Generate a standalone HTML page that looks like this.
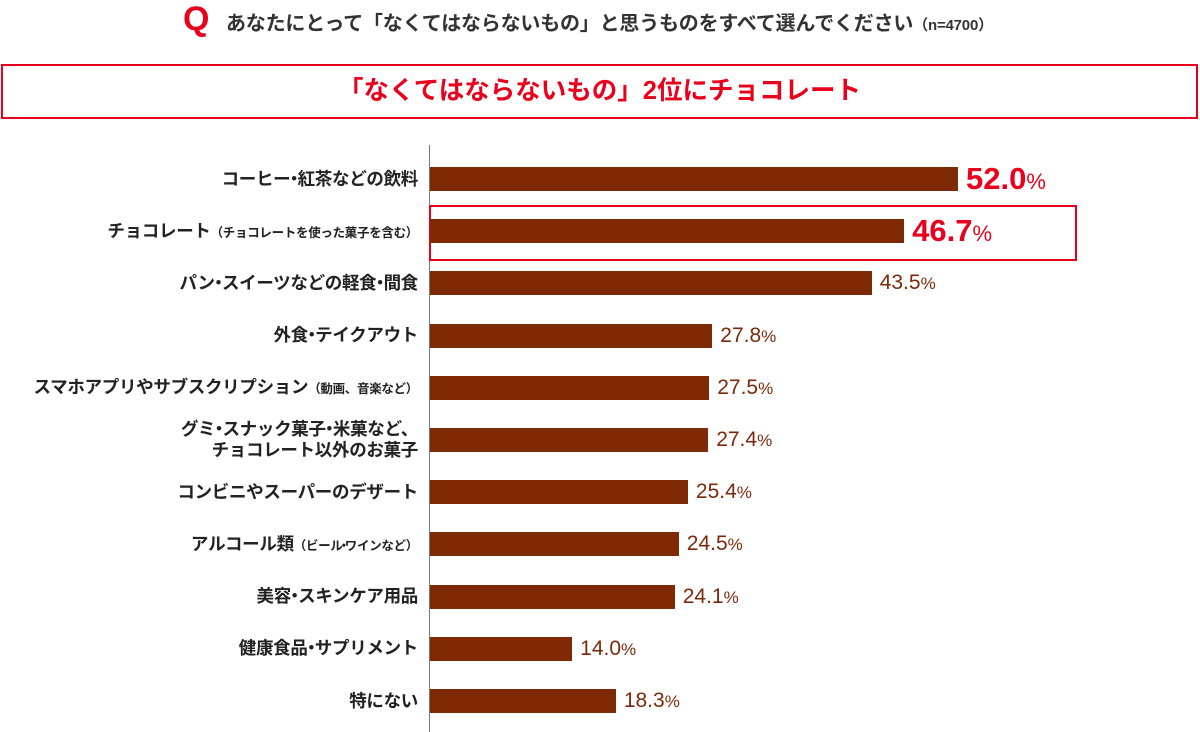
<!DOCTYPE html>
<html><head><meta charset="utf-8">
<style>
body{margin:0;width:1200px;height:732px;background:#fff;position:relative;overflow:hidden;font-family:"Liberation Sans","Noto Sans CJK JP",sans-serif;}
.abs{position:absolute;}
.lbl{position:absolute;right:782px;text-align:right;font-weight:bold;font-size:17.5px;color:#222;white-space:nowrap;line-height:21px;letter-spacing:-0.3px;}
.lbl small{font-size:12.5px;}
.lbl i{font-style:normal;margin:0 -5px;}
.val{position:absolute;white-space:nowrap;color:#7a2a0a;font-size:21px;line-height:24px;}
.val span{font-size:17px;}
.val.hi{color:#e8001c;font-weight:bold;font-size:31px;line-height:32px;}
.val.hi span{font-weight:normal;font-size:22px;}
</style></head><body>
<div class="abs" style="left:183px;top:0px;color:#e8001c;font-weight:bold;font-size:34px;">Q</div>
<div class="abs" style="left:226px;top:7px;font-size:20px;font-weight:bold;color:#333;white-space:nowrap;letter-spacing:-0.2px;">あなたにとって「なくてはならないもの」と思うものをすべて選んでください<span style="font-size:15px">（n=4700）</span></div>
<div class="abs" style="left:1px;top:64px;width:1193px;height:51px;border:2px solid #e8001c;color:#e8001c;font-weight:bold;font-size:25.5px;text-align:center;line-height:51px;">「なくてはならないもの」2位にチョコレート</div>
<div class="abs" style="left:429px;top:145px;width:1px;height:587px;background:#777;"></div>
<div class="abs" style="left:429px;top:205px;width:644px;height:52px;border:2px solid #e8001c;"></div>
<div id="chart"></div>
<script>
const categories=["コーヒー・紅茶などの飲料","チョコレート<small>（チョコレートを使った菓子を含む）</small>","パン・スイーツなどの軽食・間食","外食・テイクアウト","スマホアプリやサブスクリプション<small>（動画、音楽など）</small>","グミ・スナック菓子・米菓など、<br>チョコレート以外のお菓子","コンビニやスーパーのデザート","アルコール類<small>（ビール・ワインなど）</small>","美容・スキンケア用品","健康食品・サプリメント","特にない"];
const values=[52.0,46.7,43.5,27.8,27.5,27.4,25.4,24.5,24.1,14.0,18.3];
const highlights=[true,true,false,false,false,false,false,false,false,false,false];
const c=document.getElementById('chart');
const x0=430,scale=528/52;
const yc=i=>179+i*52.2;
values.forEach((v,i)=>{
  const b=document.createElement('div');
  
  
  b.className='abs';
  b.style.cssText=`left:${x0}px;top:${yc(i)-12}px;width:${v*scale}px;height:24px;background:#7f2a05;`;
  c.appendChild(b);
  const l=document.createElement('div');
  
  
  l.className='lbl';
  l.innerHTML=categories[i].replace(/・/g,'<i>・</i>');
  const lines=categories[i].includes('<br>')?2:1;
  l.style.top=(yc(i)-10.5*lines)+'px';
  c.appendChild(l);
  const t=document.createElement('div');
  
  
  t.className='val'+(highlights[i]?' hi':'');
  t.innerHTML=v.toFixed(1)+'<span>%</span>';
  t.style.left=(x0+v*scale+8)+'px';
  t.style.top=(yc(i)-(highlights[i]?16:12))+'px';
  c.appendChild(t);
});
</script>
</body></html>
